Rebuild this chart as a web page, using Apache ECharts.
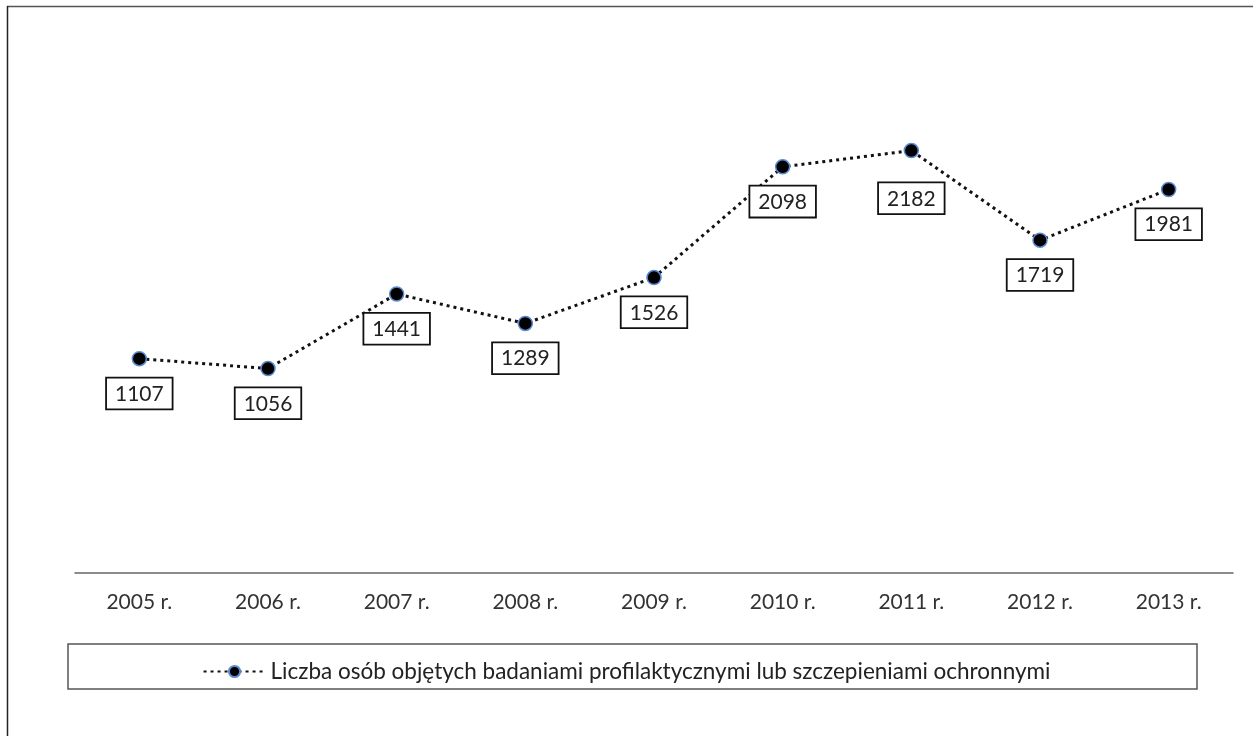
<!DOCTYPE html>
<html>
<head>
<meta charset="utf-8">
<script src="https://cdn.jsdelivr.net/npm/echarts@6/dist/echarts.min.js"></script>
<style>
    html, body {margin: 0; padding: 0; background: #fff;}
    #chart {width: 1253px; height: 736px;}
</style>
</head>
<body>
<div id="chart"></div>
<script>
//年份
var years = ['2005 r.', '2006 r.', '2007 r.', '2008 r.', '2009 r.', '2010 r.', '2011 r.', '2012 r.', '2013 r.'];
//人数
var persons = [1107, 1056, 1441, 1289, 1526, 2098, 2182, 1719, 1981];
var seriesName = 'Liczba osób objętych badaniami profilaktycznymi lub szczepieniami ochronnymi';

var fontName = 'Lato, "Open Sans", sans-serif';

var chart = echarts.init(document.getElementById('chart'));
var points = persons.map(function (v, i) {
    // 2011 label sits a bit lower in the original
    return i === 6 ? {value: v, label: {distance: 25}} : v;
});
var option = {
    animation: false,
    textStyle: {fontFamily: fontName},
    grid: {left: 75, right: 20, top: 89, bottom: 163},
    xAxis: {
        type: 'category',
        data: years,
        boundaryGap: true,
        axisLine: {lineStyle: {color: '#666', width: 1.5}},
        axisTick: {show: false},
        axisLabel: {color: '#333', fontSize: 21, margin: 19, fontFamily: fontName}
    },
    yAxis: {
        type: 'value',
        min: 0,
        max: 2500,
        show: false,
        splitLine: {show: false}
    },
    legend: {
        data: [seriesName],
        top: 655,
        left: 'center',
        itemWidth: 62,
        itemHeight: 14,
        itemGap: 6,
        textStyle: {fontSize: 22.5, color: '#222', fontFamily: fontName}
    },
    series: [{
        name: seriesName,
        type: 'line',
        data: points,
        symbol: 'circle',
        symbolSize: 14,
        itemStyle: {color: '#000', borderColor: '#5a8ad0', borderWidth: 1.5},
        lineStyle: {color: '#111', width: 3, type: [3, 4]},
        label: {
            show: true,
            position: 'bottom',
            distance: 12,
            color: '#222',
            fontSize: 21,
            fontFamily: fontName,
            backgroundColor: '#fff',
            borderColor: '#111',
            borderWidth: 1.8,
            padding: [5, 8, 4, 8]
        }
    }],
    graphic: [
        {type: 'line', shape: {x1: 7, y1: 6.5, x2: 1253, y2: 6.5}, style: {stroke: '#555', lineWidth: 1.5}},
        {type: 'line', shape: {x1: 7.5, y1: 6, x2: 7.5, y2: 736}, style: {stroke: '#222', lineWidth: 1.5}},
        {type: 'rect', shape: {x: 68, y: 644, width: 1129, height: 45}, style: {fill: 'none', stroke: '#555', lineWidth: 1.5}, z: -1}
    ]
};
chart.setOption(option);
</script>
</body>
</html>
